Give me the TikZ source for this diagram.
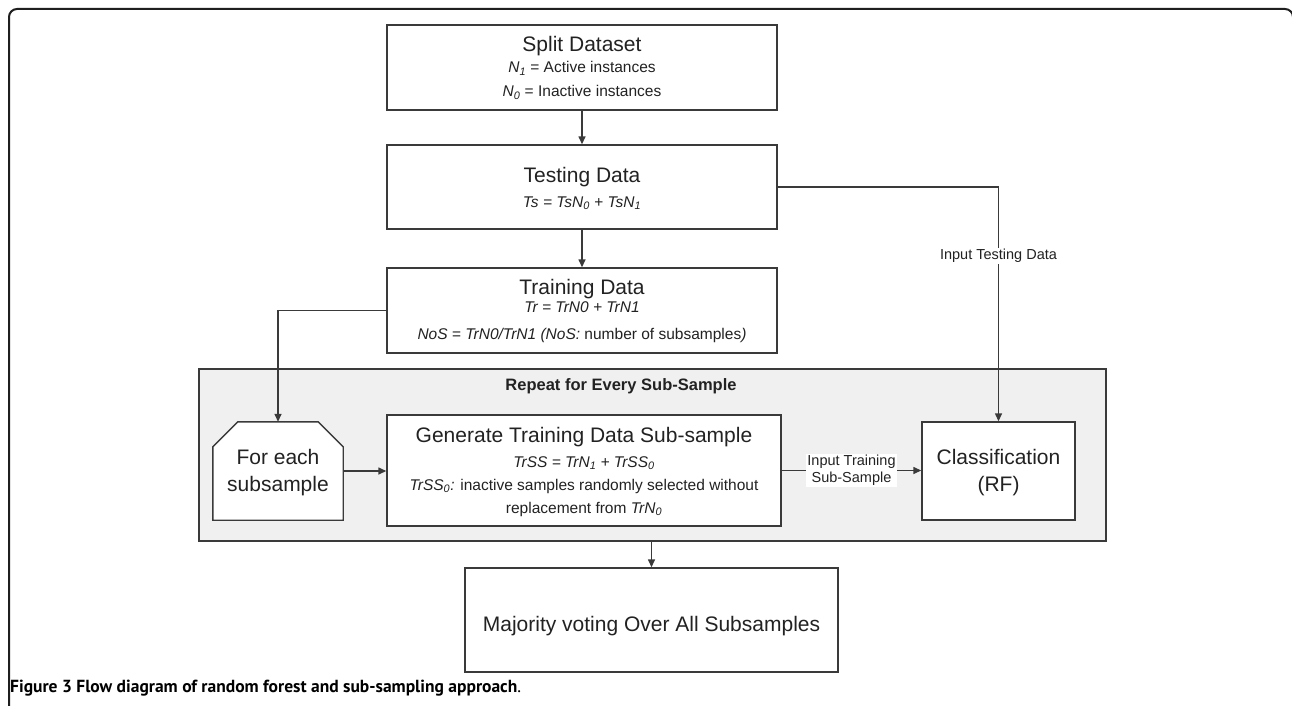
\documentclass[tikz,border=0pt]{standalone}
\usepackage{fontspec}
\setmainfont{Liberation Sans}
\newfontfamily\capfont{PT Sans}
\usetikzlibrary{arrows.meta,calc}
\definecolor{linec}{HTML}{3A3A3A}
\definecolor{grpfill}{HTML}{F0F0F0}
\definecolor{txtc}{HTML}{222222}
\newcommand{\ttlfont}{\fontsize{21}{27}\selectfont}
\newcommand{\sbtfont}{\fontsize{15.5}{18}\selectfont}
\newcommand{\lblfont}{\fontsize{14.5}{17}\selectfont}
\newcommand{\isub}[1]{\textsubscript{\itshape #1}}
\begin{document}
\begin{tikzpicture}[x=1pt,y=-1pt,
  box/.style={draw=linec, line width=1.4pt, fill=white, align=center, inner sep=0pt, text=txtc},
  conn/.style={draw=linec, line width=1.4pt, -{Triangle[length=8pt,width=7pt]}},
  lab/.style={fill=white, inner sep=1.5pt, font=\lblfont, text=txtc, align=center}]
\useasboundingbox (0,0) rectangle (1292,706);
\clip (0,0) rectangle (1292,706);
% outer frame
\draw[line width=2pt, rounded corners=8pt, color=black!88] (9,730) -- (9,9) -- (1293,9) -- (1293,730);
% group
\node[draw=linec, line width=1.4pt, fill=grpfill, minimum width=907pt, minimum height=172pt, inner sep=0pt] (grp) at (652.5,455) {};
\node[anchor=base, inner sep=0pt, font=\fontsize{16.5}{18}\selectfont\bfseries, text=txtc] (grptitle) at (621,390) {Repeat for Every Sub-Sample};
% top boxes
\node[box, font=\sbtfont, minimum width=390pt, text height=71.5pt, text depth=13.5pt] (split) at (582,67.5)
  {{\ttlfont Split Dataset}\\[2.5pt] \textit{N}\isub{1} = Active instances\\[6pt] \textit{N}\isub{0} = Inactive instances};
\node[box, font=\sbtfont, minimum width=390pt, text height=62pt, text depth=22pt] (test) at (582,187)
  {{\ttlfont Testing Data}\\[7pt] \textit{Ts = TsN\isub{0} + TsN\isub{1}}};
\node[box, font=\sbtfont, minimum width=390pt, text height=71pt, text depth=14pt] (train) at (582,310.5)
  {{\ttlfont Training Data}\\ \textit{Tr = TrN0 + TrN1}\\[9pt] \textit{NoS = TrN0/TrN1 (NoS:} number of subsamples\textit{)}};
% inside group
\node[minimum width=130pt, minimum height=98pt, inner sep=0pt] (fe) at (278,471) {};
\draw[draw=linec, line width=1.4pt, fill=white, line join=miter]
  (fe.south west) -- ([yshift=-25pt]fe.north west) -- ([xshift=25pt]fe.north west)
  -- ([xshift=-25pt]fe.north east) -- ([yshift=-25pt]fe.north east) -- (fe.south east) -- cycle;
\node[font=\ttlfont, align=center, inner sep=0pt, text=txtc, text height=69pt, text depth=29pt] (fetext) at (fe.center) {For each\\subsample};
\node[box, font=\sbtfont, minimum width=394pt, text height=98pt, text depth=13pt] (gen) at (584,470.5)
  {{\ttlfont Generate Training Data Sub-sample}\\[7pt] \textit{TrSS = TrN\isub{1} + TrSS\isub{0}}\\[5pt] \textit{TrSS\isub{0}:} inactive samples randomly selected without\\[5pt] replacement from \textit{TrN\isub{0}}};
\node[box, font=\ttlfont, minimum width=153pt, text height=69pt, text depth=29pt] (cls) at (998.5,471)
  {Classification\\(RF)};
% bottom box
\node[box, font=\ttlfont, minimum width=373pt, text height=63pt, text depth=41pt] (maj) at (651.5,620)
  {Majority voting Over All Subsamples};
% connectors
\draw[conn] (split) -- (test);
\draw[conn] (test) -- (train);
\draw[conn] (test.east) -| node[lab, pos=0.647] (intest) {Input Testing Data} (cls.north);
\draw[conn] (train.west) -| (fe.north);
\draw[conn] (fe.east) -- (fe.east -| gen.west);
\draw[conn] (gen.east) -- node[lab] (intrain) {Input Training\\Sub-Sample} (gen.east -| cls.west);
\draw[conn] (maj.north |- grp.south) -- (maj.north);
% caption
\node[anchor=base west, inner sep=0pt, font=\capfont\fontsize{17.5}{20}\selectfont, text=black] (cap) at (10,692)
  {\textbf{Figure 3 Flow diagram of random forest and sub-sampling approach}.};
\end{tikzpicture}
\end{document}
